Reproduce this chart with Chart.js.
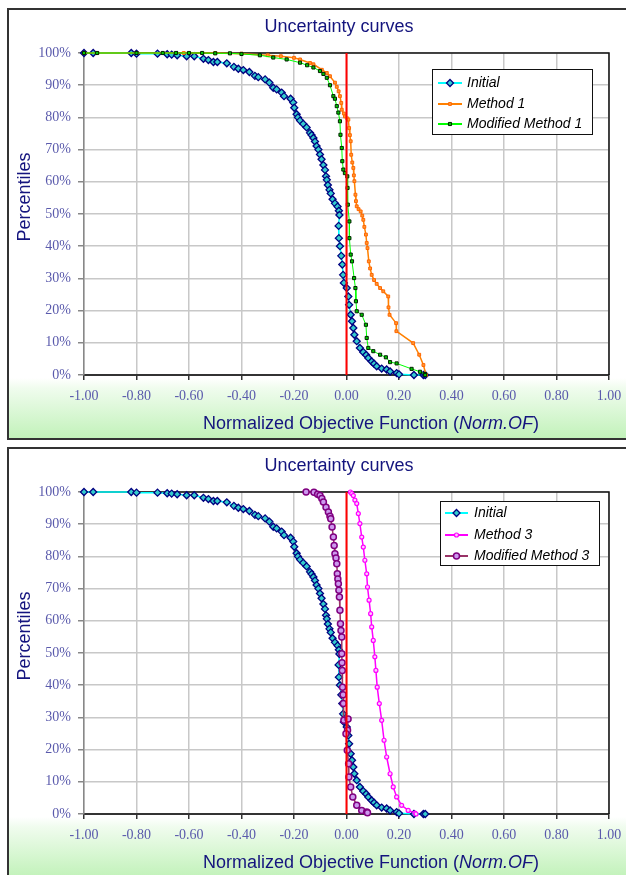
<!DOCTYPE html>
<html>
<head>
<meta charset="utf-8">
<script src="https://cdn.jsdelivr.net/npm/chart.js@4.4.0/dist/chart.umd.min.js"></script>
<style>
  html, body { margin: 0; padding: 0; background: #fff; overflow: hidden; }
  body { width: 626px; height: 875px; position: relative; }
  .panel {
    position: absolute; left: 7px; width: 630px; height: 428px;
    border: 2px solid #333;
    background: linear-gradient(to bottom, #fff 0px, #fff 368px, #f0fcee 378px, #c2f2ba 428px);
  }
  .panel canvas { display: block; }
</style>
</head>
<body>
<div class="panel" style="top:8px"><canvas id="chart1" width="630" height="428"></canvas></div>
<div class="panel" style="top:447px"><canvas id="chart2" width="630" height="428"></canvas></div>
<script>
// values: x = Norm.OF, y = percentile (%)
const initialX = [-1.000, -0.965, -0.820, -0.800, -0.720, -0.683, -0.666, -0.645, -0.609, -0.580,
  -0.545, -0.526, -0.507, -0.492, -0.456, -0.429, -0.412, -0.393, -0.370, -0.349,
  -0.336, -0.310, -0.294, -0.279, -0.266, -0.247, -0.238, -0.213, -0.203, -0.199,
  -0.190, -0.185, -0.177, -0.165, -0.152, -0.139, -0.133, -0.126, -0.120, -0.114,
  -0.107, -0.101, -0.095, -0.088, -0.082, -0.078, -0.075, -0.071, -0.065, -0.060,
  -0.053, -0.044, -0.034, -0.029, -0.027, -0.030, -0.029, -0.025, -0.020, -0.016,
  -0.013, -0.010, 0.001, 0.007, 0.010, 0.016, 0.021, 0.026, 0.030, 0.039,
  0.051, 0.064, 0.075, 0.083, 0.096, 0.105, 0.115, 0.134, 0.153, 0.166,
  0.191, 0.200, 0.257, 0.293, 0.300];
const initialY = [100, 100, 100, 99.8, 99.8, 99.6, 99.5, 99.3, 99.0, 99.0,
  98.2, 97.8, 97.2, 97.2, 96.8, 95.7, 95.1, 94.7, 94.1, 92.9,
  92.5, 91.8, 90.8, 89.2, 88.7, 87.7, 86.6, 85.8, 84.6, 83.0,
  81.0, 80.0, 79.0, 78.0, 76.9, 75.2, 74.5, 73.6, 72.5, 71.1,
  70.0, 68.5, 67.0, 65.2, 63.7, 61.7, 60.6, 59.0, 57.5, 56.4,
  54.6, 53.3, 52.3, 51.0, 49.7, 46.3, 42.5, 40.0, 37.0, 34.3,
  31.1, 28.6, 27.0, 24.4, 21.8, 18.7, 16.7, 14.6, 12.5, 10.5,
  8.4, 7.1, 6.2, 5.3, 4.2, 3.5, 2.7, 2.0, 1.7, 1.1,
  0.6, 0.2, 0, 0, 0];

const method1X = [-1.000, -0.950, -0.800, -0.620, -0.500, -0.400, -0.300, -0.250, -0.200, -0.177,
  -0.139, -0.126, -0.094, -0.075, -0.063, -0.044, -0.037, -0.030, -0.025, -0.020,
  -0.018, -0.010, -0.006, 0.003, 0.007, 0.010, 0.013, 0.016, 0.018, 0.022,
  0.026, 0.028, 0.030, 0.034, 0.036, 0.039, 0.046, 0.054, 0.060, 0.064,
  0.068, 0.074, 0.077, 0.080, 0.085, 0.090, 0.096, 0.105, 0.115, 0.128,
  0.140, 0.159, 0.160, 0.164, 0.189, 0.190, 0.254, 0.277, 0.293, 0.303];
const method1Y = [100, 100, 100, 100, 100, 99.8, 99.3, 99.0, 98.5, 98.0,
  96.9, 96.5, 94.8, 93.8, 92.8, 90.8, 89.5, 88.1, 86.6, 84.5,
  82.4, 81.2, 80.3, 79.7, 79.3, 76.7, 74.5, 72.6, 68.4, 66.0,
  64.3, 62.0, 60.2, 56.0, 54.0, 52.4, 51.5, 50.8, 49.5, 48.2,
  46.0, 43.6, 41.0, 39.4, 35.3, 33.1, 31.1, 29.5, 28.3, 27.0,
  26.0, 24.4, 21.0, 18.7, 16.1, 13.6, 9.9, 6.3, 3.1, 0];

const modMethod1X = [-1.000, -0.950, -0.800, -0.700, -0.650, -0.600, -0.550, -0.500, -0.444, -0.400,
  -0.330, -0.279, -0.228, -0.177, -0.150, -0.126, -0.101, -0.088, -0.075, -0.063,
  -0.050, -0.044, -0.037, -0.031, -0.025, -0.023, -0.018, -0.016, -0.012, -0.006,
  0.003, 0.004, 0.005, 0.011, 0.011, 0.016, 0.021, 0.029, 0.034, 0.036,
  0.039, 0.058, 0.074, 0.077, 0.083, 0.102, 0.128, 0.150, 0.166, 0.191,
  0.248, 0.280, 0.299, 0.300];
const modMethod1Y = [100, 100, 100, 100, 100, 100, 100, 99.9, 99.9, 99.7,
  99.3, 98.6, 98.0, 97.0, 96.2, 95.5, 94.4, 93.5, 92.3, 90.0,
  86.6, 85.8, 83.5, 81.5, 78.8, 74.6, 70.5, 66.4, 63.8, 62.7,
  61.7, 58.1, 52.9, 47.7, 42.5, 37.4, 35.3, 30.1, 27.0, 22.9,
  19.8, 18.7, 15.6, 11.5, 8.4, 7.4, 6.3, 5.5, 4.0, 3.6,
  1.9, 1.0, 0.3, 0];

const method3X = [0.015, 0.020, 0.026, 0.032, 0.039, 0.045, 0.051, 0.058, 0.064, 0.070,
  0.077, 0.080, 0.086, 0.092, 0.096, 0.102, 0.108, 0.112, 0.117, 0.125,
  0.134, 0.143, 0.153, 0.166, 0.178, 0.191, 0.210, 0.235, 0.261, 0.265];
const method3Y = [100, 99.5, 98.9, 97.5, 96.4, 93.3, 90.2, 86.0, 82.9, 78.8,
  74.6, 70.5, 66.4, 62.2, 58.1, 53.9, 48.8, 44.6, 39.4, 34.3,
  29.1, 22.9, 17.7, 12.5, 8.4, 5.3, 2.7, 1.1, 0.3, 0];

const modMethod3X = [-0.154, -0.124, -0.110, -0.101, -0.094, -0.088, -0.078, -0.069, -0.063, -0.060,
  -0.055, -0.050, -0.047, -0.044, -0.040, -0.037, -0.035, -0.033, -0.031, -0.029,
  -0.027, -0.025, -0.023, -0.021, -0.018, -0.018, -0.017, -0.016, -0.015, -0.013,
  -0.012, -0.010, 0.006, 0.004, -0.002, 0.003, 0.008, 0.009, 0.016, 0.024,
  0.039, 0.058, 0.077, 0.080];
const modMethod3Y = [100, 99.9, 99.3, 98.9, 98.0, 96.9, 95.3, 93.8, 92.5, 91.7,
  89.1, 86.0, 83.4, 80.8, 79.5, 77.7, 74.6, 73.0, 71.5, 69.5,
  67.4, 63.3, 59.1, 57.0, 55.0, 49.8, 47.0, 44.6, 39.4, 37.0,
  34.3, 29.1, 29.5, 26.0, 24.9, 19.8, 15.6, 11.5, 8.4, 5.3,
  2.7, 1.1, 0.6, 0.4];

const refLineX = [0, 0];
const refLineY = [0, 100];

const xMin = -1, xMax = 1, xStep = 0.2;
const yMin = 0, yMax = 100, yStep = 10;

const navy = '#14147e';
const tickBlue = '#5a5aac';

const styles = {
  initial: { borderColor: '#00ffff', borderWidth: 1.5, pointStyle: 'rectRot', pointRadius: 3.5,
    pointBackgroundColor: '#33cccc', pointBorderColor: '#000080', pointBorderWidth: 1.3, order: 3 },
  method1: { borderColor: '#ff8000', borderWidth: 1.5, pointStyle: 'rect', pointRadius: 2,
    pointBackgroundColor: '#ff9933', pointBorderColor: '#ff6600', pointBorderWidth: 1, order: 2 },
  modMethod1: { borderColor: '#00ff00', borderWidth: 1, pointStyle: 'rect', pointRadius: 2.2,
    pointBackgroundColor: '#00cc00', pointBorderColor: '#002200', pointBorderWidth: 1, order: 1 },
  method3: { borderColor: '#ff00ff', borderWidth: 1.5, pointStyle: 'circle', pointRadius: 2,
    pointBackgroundColor: '#ffccff', pointBorderColor: '#ff00ff', pointBorderWidth: 1.2, order: 2 },
  modMethod3: { borderColor: '#993366', borderWidth: 1.5, pointStyle: 'circle', pointRadius: 3,
    pointBackgroundColor: '#cc99ee', pointBorderColor: '#800080', pointBorderWidth: 1.5, order: 1 }
};

function series(label, xs, ys, style) {
  return Object.assign({
    label: label,
    data: xs.map((x, i) => ({ x: x, y: ys[i] })),
    showLine: true, tension: 0, clip: false
  }, style);
}

function refLine() {
  return { label: 'ref', data: refLineX.map((x, i) => ({ x: x, y: refLineY[i] })),
    showLine: true, borderColor: '#ff0000', borderWidth: 2, pointRadius: 0, clip: false, order: 0 };
}

function drawMarker(ctx, s, x, y) {
  const r = s.pointRadius;
  ctx.beginPath();
  if (s.pointStyle === 'rectRot') {
    ctx.moveTo(x, y - r); ctx.lineTo(x + r, y); ctx.lineTo(x, y + r); ctx.lineTo(x - r, y); ctx.closePath();
  } else if (s.pointStyle === 'rect') {
    const h = r * Math.SQRT1_2;
    ctx.rect(x - h, y - h, 2 * h, 2 * h);
  } else {
    ctx.arc(x, y, r, 0, Math.PI * 2);
  }
  ctx.fillStyle = s.pointBackgroundColor;
  ctx.fill();
  ctx.lineWidth = s.pointBorderWidth;
  ctx.strokeStyle = s.pointBorderColor;
  ctx.stroke();
}

const decorPlugin = {
  id: 'decor',
  beforeDatasetsDraw(chart) {
    const { ctx, chartArea: a } = chart;
    ctx.save();
    ctx.strokeStyle = '#111';
    ctx.lineWidth = 1.5;
    ctx.beginPath();
    ctx.moveTo(a.left, a.top);
    ctx.lineTo(a.right, a.top);
    ctx.lineTo(a.right, a.bottom);
    ctx.stroke();
    ctx.restore();
  },
  afterDraw(chart, args, opts) {
    const ctx = chart.ctx;
    ctx.save();
    // chart title
    ctx.fillStyle = navy;
    ctx.font = '18px Arial, "Liberation Sans", sans-serif';
    ctx.textAlign = 'center';
    ctx.textBaseline = 'middle';
    ctx.fillText('Uncertainty curves', 330, 17);

    // y axis title
    ctx.save();
    ctx.translate(16, 187);
    ctx.rotate(-Math.PI / 2);
    ctx.fillText('Percentiles', 0, 0);
    ctx.restore();

    // x axis title with italic part
    const parts = [
      ['Normalized Objective Function (', '18px Arial, "Liberation Sans", sans-serif'],
      ['Norm.OF', 'italic 18px Arial, "Liberation Sans", sans-serif'],
      [')', '18px Arial, "Liberation Sans", sans-serif']
    ];
    let total = 0;
    parts.forEach(p => { ctx.font = p[1]; total += ctx.measureText(p[0]).width; });
    let x = 362 - total / 2;
    ctx.textAlign = 'left';
    parts.forEach(p => { ctx.font = p[1]; ctx.fillText(p[0], x, 414); x += ctx.measureText(p[0]).width; });

    // legend
    const lg = opts.legend;
    ctx.fillStyle = '#fff';
    ctx.fillRect(lg.left, lg.top, lg.right - lg.left, lg.bottom - lg.top);
    ctx.strokeStyle = '#111';
    ctx.lineWidth = 1;
    ctx.strokeRect(lg.left + 0.5, lg.top + 0.5, lg.right - lg.left, lg.bottom - lg.top);
    lg.items.forEach((it, i) => {
      const y = lg.rows[i];
      const s = styles[it.key];
      ctx.strokeStyle = s.borderColor;
      ctx.lineWidth = 2;
      ctx.beginPath();
      ctx.moveTo(lg.lineFrom, y);
      ctx.lineTo(lg.lineTo, y);
      ctx.stroke();
      drawMarker(ctx, s, (lg.lineFrom + lg.lineTo) / 2, y);
      ctx.fillStyle = '#000';
      ctx.font = 'italic 14px Arial, "Liberation Sans", sans-serif';
      ctx.textAlign = 'left';
      ctx.textBaseline = 'middle';
      ctx.fillText(it.label, lg.textX, y);
    });
    ctx.restore();
  }
};

function makeChart(id, datasets, legend) {
  const tickFont = { family: '"Liberation Serif", "Times New Roman", serif', size: 14 };
  return new Chart(document.getElementById(id), {
    type: 'scatter',
    data: { datasets: datasets },
    options: {
      responsive: false,
      animation: false,
      events: [],
      layout: { padding: { top: 43, right: 30, left: 0, bottom: 0 } },
      plugins: {
        legend: { display: false },
        tooltip: { enabled: false },
        decor: { legend: legend }
      },
      scales: {
        x: {
          type: 'linear', min: xMin, max: xMax,
          afterFit(s) { s.height = 63; },
          grid: { color: '#c8c8c8', lineWidth: 1.5, tickColor: '#333', tickLength: 5, tickWidth: 1.5 },
          border: { color: '#333', width: 2 },
          ticks: {
            stepSize: xStep, autoSkip: false, maxRotation: 0, padding: 8,
            color: tickBlue, font: tickFont,
            callback: v => Math.abs(v) < 1e-9 ? '0.00' : v.toFixed(2)
          }
        },
        y: {
          type: 'linear', min: yMin, max: yMax,
          afterFit(s) { s.width = 75; },
          grid: { color: '#c8c8c8', lineWidth: 1.5, tickColor: '#888', tickLength: 6 },
          border: { color: '#888', width: 1.5 },
          ticks: {
            stepSize: yStep, padding: 7, color: tickBlue, font: tickFont,
            callback: v => Math.round(v) + '%'
          }
        }
      }
    },
    plugins: [decorPlugin]
  });
}

makeChart('chart1', [
  series('Initial', initialX, initialY, styles.initial),
  series('Method 1', method1X, method1Y, styles.method1),
  series('Modified Method 1', modMethod1X, modMethod1Y, styles.modMethod1),
  refLine()
], {
  left: 423, top: 59, right: 583, bottom: 124,
  rows: [73, 94, 114], lineFrom: 429, lineTo: 453, textX: 458,
  items: [
    { key: 'initial', label: 'Initial' },
    { key: 'method1', label: 'Method 1' },
    { key: 'modMethod1', label: 'Modified Method 1' }
  ]
});

makeChart('chart2', [
  series('Initial', initialX, initialY, styles.initial),
  series('Method 3', method3X, method3Y, styles.method3),
  series('Modified Method 3', modMethod3X, modMethod3Y, styles.modMethod3),
  refLine()
], {
  left: 431, top: 52, right: 590, bottom: 116,
  rows: [64, 86, 107], lineFrom: 436, lineTo: 459, textX: 465,
  items: [
    { key: 'initial', label: 'Initial' },
    { key: 'method3', label: 'Method 3' },
    { key: 'modMethod3', label: 'Modified Method 3' }
  ]
});
</script>
</body>
</html>
